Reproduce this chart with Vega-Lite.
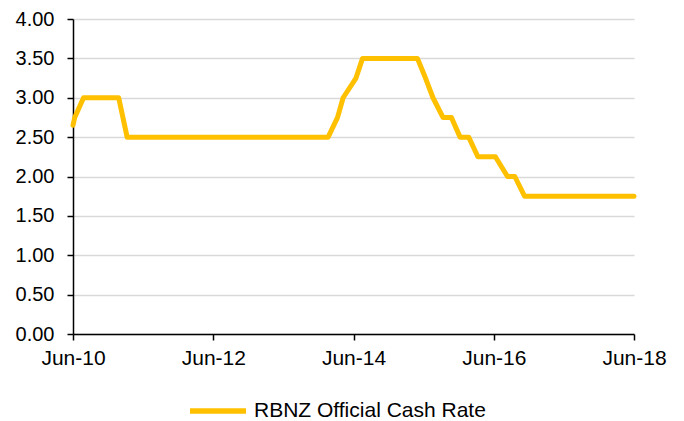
{
  "$schema": "https://vega.github.io/schema/vega-lite/v6.json",
  "width": 561,
  "height": 315,
  "autosize": {"type": "none"},
  "padding": {"left": 73, "top": 19, "right": 50, "bottom": 87},
  "background": "white",
  "config": {
    "view": {"stroke": null},
    "font": "Liberation Sans",
    "axis": {"labelFont": "Liberation Sans", "labelColor": "#000000"},
    "legend": {"labelFont": "Liberation Sans", "labelFontSize": 21, "labelColor": "#000000", "labelLimit": 400}
  },
  "data": {
    "values": [
      {"date": "2010-06-01", "rate": 2.65},
      {"date": "2010-06-10", "rate": 2.75},
      {"date": "2010-07-26", "rate": 3.0},
      {"date": "2010-09-16", "rate": 3.0},
      {"date": "2010-10-28", "rate": 3.0},
      {"date": "2010-12-09", "rate": 3.0},
      {"date": "2011-01-25", "rate": 3.0},
      {"date": "2011-03-10", "rate": 2.5},
      {"date": "2011-04-28", "rate": 2.5},
      {"date": "2011-06-09", "rate": 2.5},
      {"date": "2011-07-28", "rate": 2.5},
      {"date": "2011-09-15", "rate": 2.5},
      {"date": "2011-10-27", "rate": 2.5},
      {"date": "2011-12-08", "rate": 2.5},
      {"date": "2012-01-26", "rate": 2.5},
      {"date": "2012-03-08", "rate": 2.5},
      {"date": "2012-04-26", "rate": 2.5},
      {"date": "2012-06-14", "rate": 2.5},
      {"date": "2012-07-26", "rate": 2.5},
      {"date": "2012-09-13", "rate": 2.5},
      {"date": "2012-10-25", "rate": 2.5},
      {"date": "2012-12-06", "rate": 2.5},
      {"date": "2013-01-31", "rate": 2.5},
      {"date": "2013-03-14", "rate": 2.5},
      {"date": "2013-04-24", "rate": 2.5},
      {"date": "2013-06-13", "rate": 2.5},
      {"date": "2013-07-25", "rate": 2.5},
      {"date": "2013-09-12", "rate": 2.5},
      {"date": "2013-10-31", "rate": 2.5},
      {"date": "2013-12-12", "rate": 2.5},
      {"date": "2014-01-20", "rate": 2.5},
      {"date": "2014-03-10", "rate": 2.75},
      {"date": "2014-04-08", "rate": 3.0},
      {"date": "2014-06-14", "rate": 3.25},
      {"date": "2014-07-18", "rate": 3.5},
      {"date": "2014-09-11", "rate": 3.5},
      {"date": "2014-10-30", "rate": 3.5},
      {"date": "2014-12-11", "rate": 3.5},
      {"date": "2015-01-29", "rate": 3.5},
      {"date": "2015-03-12", "rate": 3.5},
      {"date": "2015-04-30", "rate": 3.5},
      {"date": "2015-06-11", "rate": 3.25},
      {"date": "2015-07-20", "rate": 3.0},
      {"date": "2015-09-10", "rate": 2.75},
      {"date": "2015-10-24", "rate": 2.75},
      {"date": "2015-12-08", "rate": 2.5},
      {"date": "2016-01-22", "rate": 2.5},
      {"date": "2016-03-10", "rate": 2.25},
      {"date": "2016-04-28", "rate": 2.25},
      {"date": "2016-06-09", "rate": 2.25},
      {"date": "2016-08-11", "rate": 2.0},
      {"date": "2016-09-18", "rate": 2.0},
      {"date": "2016-11-08", "rate": 1.75},
      {"date": "2017-02-09", "rate": 1.75},
      {"date": "2017-03-23", "rate": 1.75},
      {"date": "2017-05-11", "rate": 1.75},
      {"date": "2017-06-22", "rate": 1.75},
      {"date": "2017-08-10", "rate": 1.75},
      {"date": "2017-09-28", "rate": 1.75},
      {"date": "2017-11-09", "rate": 1.75},
      {"date": "2018-02-08", "rate": 1.75},
      {"date": "2018-03-22", "rate": 1.75},
      {"date": "2018-05-10", "rate": 1.75},
      {"date": "2018-06-01", "rate": 1.75}
    ]
  },
  "mark": {"type": "line", "strokeWidth": 5, "strokeCap": "round", "strokeJoin": "round"},
  "encoding": {
    "x": {
      "field": "date",
      "type": "temporal",
      "scale": {
        "type": "utc",
        "domain": [
          {"year": 2010, "month": 6, "date": 1, "utc": true},
          {"year": 2018, "month": 6, "date": 1, "utc": true}
        ],
        "nice": false
      },
      "axis": {
        "title": null,
        "grid": false,
        "values": [
          {"year": 2010, "month": 6, "date": 1, "utc": true},
          {"year": 2012, "month": 6, "date": 1, "utc": true},
          {"year": 2014, "month": 6, "date": 1, "utc": true},
          {"year": 2016, "month": 6, "date": 1, "utc": true},
          {"year": 2018, "month": 6, "date": 1, "utc": true}
        ],
        "format": "%b-%y",
        "labelFontSize": 21,
        "domainColor": "#000000",
        "domainWidth": 1.5,
        "tickColor": "#000000",
        "tickWidth": 1.5,
        "tickSize": 6,
        "labelPadding": 7,
        "labelFlush": false
      }
    },
    "y": {
      "field": "rate",
      "type": "quantitative",
      "scale": {"domain": [0, 4], "nice": false, "zero": true},
      "axis": {
        "title": null,
        "values": [0, 0.5, 1, 1.5, 2, 2.5, 3, 3.5, 4],
        "format": ".2f",
        "labelFontSize": 20,
        "grid": true,
        "gridColor": "#D9D9D9",
        "gridWidth": 1.3,
        "domainColor": "#000000",
        "domainWidth": 1.5,
        "tickColor": "#000000",
        "tickWidth": 1.5,
        "tickSize": 6,
        "labelPadding": 13,
        "labelFlush": false
      }
    },
    "color": {
      "datum": "RBNZ Official Cash Rate",
      "scale": {"range": ["#FFC000"]},
      "legend": {
        "title": null,
        "orient": "none",
        "legendX": 114,
        "legendY": 361,
        "padding": 0,
        "symbolType": "stroke",
        "symbolSize": 3136,
        "symbolStrokeWidth": 5.5,
        "labelOffset": 5,
        "labelLimit": 400
      }
    }
  }
}
